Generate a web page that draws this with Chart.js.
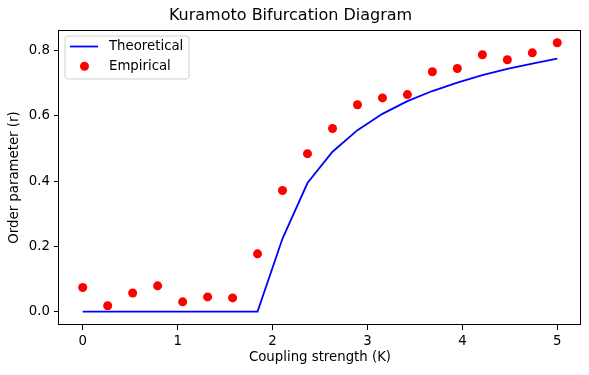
<!DOCTYPE html>
<html>
<head>
<meta charset="utf-8">
<script src="https://cdn.jsdelivr.net/npm/chart.js@4/dist/chart.umd.min.js"></script>
<style>
html,body{margin:0;padding:0;background:#fff;}
#wrap{width:589px;height:375px;}
</style>
</head>
<body>
<div id="wrap"><canvas id="c" width="589" height="375"></canvas></div>
<script>
const couplingK = [0.000, 0.263, 0.526, 0.789, 1.053, 1.316, 1.579, 1.842, 2.105, 2.368,
                   2.632, 2.895, 3.158, 3.421, 3.684, 3.947, 4.211, 4.474, 4.737, 5.000];
const theoretical = [0, 0, 0, 0, 0, 0, 0, 0, 0.224, 0.394,
                     0.490, 0.556, 0.606, 0.645, 0.676, 0.702, 0.725, 0.744, 0.760, 0.775];
const empirical = [0.074, 0.018, 0.057, 0.079, 0.030, 0.045, 0.042, 0.177, 0.371, 0.484,
                   0.561, 0.634, 0.655, 0.665, 0.735, 0.745, 0.787, 0.772, 0.793, 0.824];
const xTicks = [0, 1, 2, 3, 4, 5];
const yTicks = [0.0, 0.2, 0.4, 0.6, 0.8];

const FONT = 'DejaVu Sans';
const FS = 13.3;

const frame = {
  id: 'frame',
  afterDatasetsDraw(chart) {
    const {ctx, chartArea: a} = chart;
    ctx.save();
    ctx.strokeStyle = '#000';
    ctx.lineWidth = 1;
    ctx.strokeRect(Math.round(a.left) - 0.5, Math.round(a.top) + 0.5,
                   Math.round(a.right - a.left), Math.round(a.bottom - a.top) - 1);
    // legend
    const x0 = a.left + 6, y0 = a.top + 6, w = 124, h = 43, r = 3;
    ctx.beginPath();
    ctx.moveTo(x0 + r, y0);
    ctx.arcTo(x0 + w, y0, x0 + w, y0 + h, r);
    ctx.arcTo(x0 + w, y0 + h, x0, y0 + h, r);
    ctx.arcTo(x0, y0 + h, x0, y0, r);
    ctx.arcTo(x0, y0, x0 + w, y0, r);
    ctx.closePath();
    ctx.fillStyle = 'rgba(255,255,255,0.8)';
    ctx.fill();
    ctx.strokeStyle = '#d0d0d0';
    ctx.stroke();
    const ds = chart.data.datasets;
    ctx.strokeStyle = ds[0].borderColor;
    ctx.lineWidth = ds[0].borderWidth;
    ctx.beginPath();
    ctx.moveTo(x0 + 5, y0 + 10.5);
    ctx.lineTo(x0 + 33, y0 + 10.5);
    ctx.stroke();
    ctx.fillStyle = ds[1].backgroundColor;
    ctx.beginPath();
    ctx.arc(x0 + 19.5, y0 + 30.3, ds[1].pointRadius, 0, Math.PI * 2);
    ctx.fill();
    ctx.fillStyle = '#000';
    ctx.font = FS + 'px "' + FONT + '"';
    ctx.textBaseline = 'middle';
    ctx.textAlign = 'left';
    ctx.fillText(ds[0].label, x0 + 44, y0 + 11);
    ctx.fillText(ds[1].label, x0 + 44, y0 + 30.5);
    ctx.restore();
  }
};

new Chart(document.getElementById('c'), {
  type: 'scatter',
  data: {
    datasets: [
      {
        label: 'Theoretical',
        type: 'line',
        data: couplingK.map((k, i) => ({x: k, y: theoretical[i]})),
        borderColor: '#0000ff',
        backgroundColor: '#0000ff',
        borderWidth: 1.8,
        pointRadius: 0,
        tension: 0,
        fill: false
      },
      {
        label: 'Empirical',
        data: couplingK.map((k, i) => ({x: k, y: empirical[i]})),
        backgroundColor: '#ff0000',
        borderColor: '#ff0000',
        borderWidth: 0,
        pointRadius: 4.5,
        pointHoverRadius: 4.5
      }
    ]
  },
  plugins: [frame],
  options: {
    responsive: false,
    animation: false,
    layout: {padding: {left: 0, right: 8, top: 0, bottom: 0}},
    plugins: {
      legend: {display: false},
      tooltip: {enabled: false},
      title: {
        display: true,
        text: 'Kuramoto Bifurcation Diagram',
        color: '#000',
        font: {family: FONT, size: 16, weight: 'normal'},
        padding: {top: 6.4, bottom: 4.4}
      }
    },
    scales: {
      x: {
        type: 'linear',
        min: -0.25,
        max: 5.25,
        afterBuildTicks(s) { s.ticks = xTicks.map(v => ({value: v})); },
        afterFit(s) { s.height = 50; },
        ticks: {color: '#000', font: {family: FONT, size: FS}, padding: 4,
                callback: v => String(v)},
        grid: {drawOnChartArea: false, drawTicks: true, tickLength: 5, color: '#000'},
        border: {display: false},
        title: {display: true, text: 'Coupling strength (K)', color: '#000',
                font: {family: FONT, size: FS}, padding: {top: 0, bottom: 9.5}}
      },
      y: {
        type: 'linear',
        min: -0.041,
        max: 0.863,
        afterBuildTicks(s) { s.ticks = yTicks.map(v => ({value: v})); },
        afterFit(s) { s.width = 59; },
        ticks: {color: '#000', font: {family: FONT, size: FS}, padding: 4,
                callback: v => v.toFixed(1)},
        grid: {drawOnChartArea: false, drawTicks: true, tickLength: 5, color: '#000'},
        border: {display: false},
        title: {display: true, text: 'Order parameter (r)', color: '#000',
                font: {family: FONT, size: FS}, padding: {top: 7, bottom: 0}}
      }
    }
  }
});
</script>
</body>
</html>
